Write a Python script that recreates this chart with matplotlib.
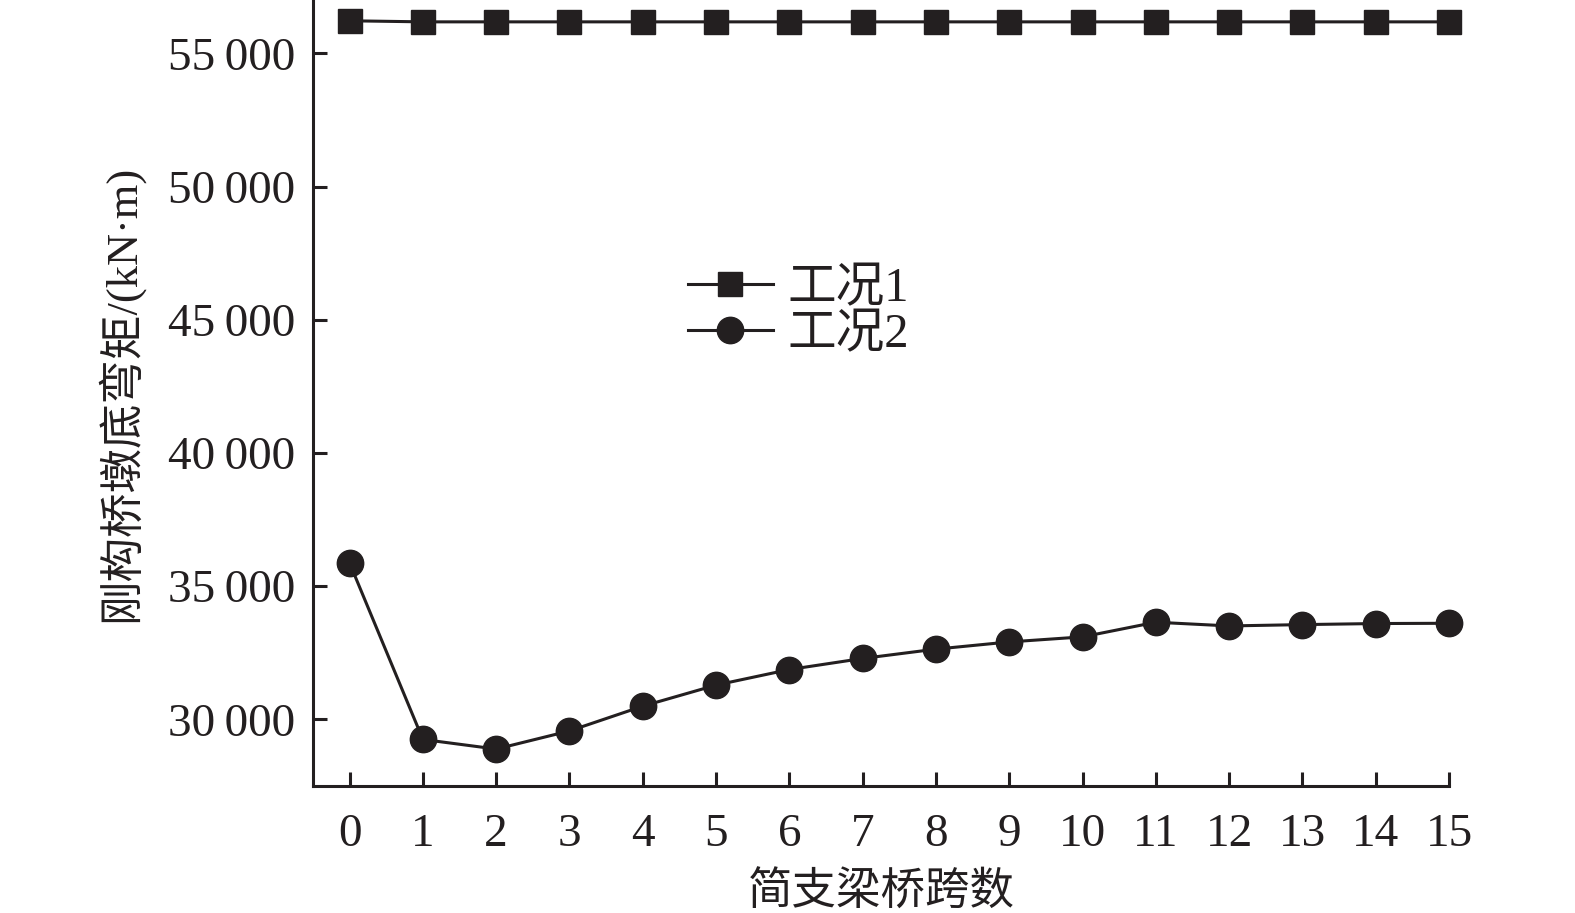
import matplotlib
matplotlib.use("Agg")
import matplotlib.pyplot as plt
from matplotlib.ticker import FuncFormatter

plt.rcParams['font.family'] = ['Liberation Serif', 'Noto Sans CJK SC', 'DejaVu Sans']

# spans of simply supported bridge
spans = list(range(16))
# moment at rigid frame pier base, kN*m
case1 = [56220, 56180, 56180, 56180, 56180, 56180, 56180, 56180,
         56180, 56180, 56180, 56180, 56180, 56180, 56180, 56180]
case2 = [35870, 29250, 28890, 29570, 30500, 31290, 31875, 32290,
         32640, 32910, 33100, 33650, 33510, 33560, 33600, 33610]
labels = ['工况1', '工况2']
yticks = [30000, 35000, 40000, 45000, 50000, 55000]

fig = plt.figure(figsize=(15.75, 9.13), dpi=100)
ax = fig.add_axes([0.1987, 0.139, 0.7213, 0.861])

c = '#231f20'
ax.plot(spans, case1, color=c, lw=2.2, marker='s', ms=17, label=labels[0], clip_on=False)
ax.plot(spans, case2, color=c, lw=2.2, marker='o', ms=19, label=labels[1], clip_on=False)

ax.set_xlim(-0.5, 15)
ax.set_ylim(27500, 57000)
ax.set_xticks(spans)
ax.set_yticks(yticks)
ax.yaxis.set_major_formatter(FuncFormatter(lambda v, p: f'{int(v)//1000}\u2009{int(v)%1000:03d}'))

for s in ['top', 'right']:
    ax.spines[s].set_visible(False)
for s in ['left', 'bottom']:
    ax.spines[s].set_linewidth(2.2)
    ax.spines[s].set_color(c)

ax.tick_params(direction='in', length=10, width=2.2, color=c, labelsize=34, labelcolor=c)
ax.tick_params(axis='x', pad=20)
ax.tick_params(axis='y', pad=13)

ax.set_xlabel('简支梁桥跨数', fontsize=32, color=c, labelpad=11)
ax.set_ylabel('刚构桥墩底弯矩/(kN·m)', fontsize=32, color=c, labelpad=18)

ax.legend(loc='center left', bbox_to_anchor=(0.33, 0.603), frameon=False,
          fontsize=35, borderpad=0, borderaxespad=0, handlelength=1.75,
          handletextpad=0.3, labelspacing=0.05, labelcolor=c)

fig.savefig('out.png', dpi=100)
